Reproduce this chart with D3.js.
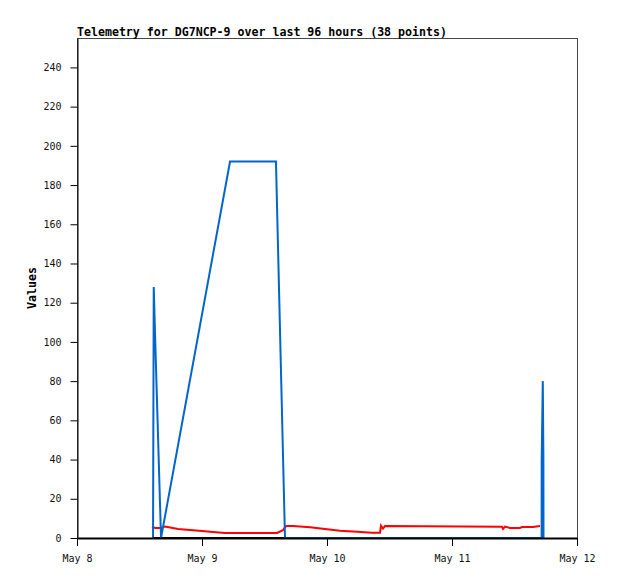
<!DOCTYPE html>
<html>
<head>
<meta charset="utf-8">
<script src="https://cdn.jsdelivr.net/npm/d3@7"></script>
<style>
  html, body { margin: 0; padding: 0; background: #fff; }
  svg { display: block; }
</style>
</head>
<body>
<svg id="chart" width="618" height="579"></svg>
<script>
// ---- data ----
const titleText = "Telemetry for DG7NCP-9 over last 96 hours (38 points)";
const yLabel = "Values";
const xDomain = ["2024-05-08T00:00:00Z", "2024-05-12T00:00:00Z"];
const xTickLabels = ["May 8", "May 9", "May 10", "May 11", "May 12"];
const yTicks = [0, 20, 40, 60, 80, 100, 120, 140, 160, 180, 200, 220, 240];
const yMax = 255;

const blueTimes = [
  "2024-05-08T14:36", "2024-05-08T14:44", "2024-05-08T14:59", "2024-05-08T16:08",
  "2024-05-09T05:23", "2024-05-09T14:12", "2024-05-09T15:56",
  "2024-05-11T17:12:12", "2024-05-11T17:13:20", "2024-05-11T17:26:00",
  "2024-05-11T17:32:54", "2024-05-11T17:34:05"
];
const blueValues = [0, 128, 104, 0, 192, 192, 0, 0, 40, 80, 40, 0];

const redTimes = [
  "2024-05-08T14:24", "2024-05-08T14:59", "2024-05-08T15:56", "2024-05-08T16:54",
  "2024-05-08T19:24", "2024-05-08T21:42", "2024-05-09T00:00", "2024-05-09T02:07",
  "2024-05-09T04:25", "2024-05-09T14:24", "2024-05-09T15:33", "2024-05-09T16:08",
  "2024-05-09T17:28", "2024-05-09T20:44", "2024-05-09T23:37", "2024-05-10T02:30",
  "2024-05-10T05:46", "2024-05-10T08:38", "2024-05-10T10:11", "2024-05-10T10:22",
  "2024-05-10T10:45", "2024-05-10T11:08", "2024-05-11T09:36", "2024-05-11T09:48",
  "2024-05-11T10:11", "2024-05-11T11:08", "2024-05-11T13:03", "2024-05-11T13:26",
  "2024-05-11T15:33", "2024-05-11T16:54"
];
const redValues = [
  5.8, 5.1, 5.1, 5.8, 4.6, 4.1, 3.6, 3.1, 2.6, 2.6, 4.0, 6.1,
  6.1, 5.5, 4.6, 3.7, 3.2, 2.7, 2.7, 6.3, 4.8, 6.1, 5.8, 4.6,
  5.8, 5.1, 5.1, 5.6, 5.6, 6.1
];

const blackTimes = ["2024-05-08T14:36", "2024-05-11T17:28"];
const blackValues = [0, 0];

// ---- layout ----
const mLeft = 77, mRight = 577, mTop = 38, mBottom = 538;
const svg = d3.select("#chart");
const parse = s => new Date(s.endsWith("Z") ? s : (s.length === 16 ? s + ":00Z" : s + "Z"));

const x = d3.scaleUtc().domain(xDomain.map(parse)).range([mLeft, mRight]);
const y = d3.scaleLinear().domain([0, yMax]).range([mBottom, mBottom - 500 * yMax / 255]);

const font = "'DejaVu Sans Mono', monospace";

// frame
svg.append("rect")
  .attr("x", mLeft + 0.5).attr("y", mTop + 0.5)
  .attr("width", mRight - mLeft).attr("height", mBottom - mTop)
  .attr("fill", "none").attr("stroke", "#444").attr("stroke-width", 1);

// series
const line = d3.line().x(d => x(d[0])).y(d => y(d[1]));
function series(times, values, color, width) {
  const pts = times.map((t, i) => [parse(t), values[i]]);
  svg.append("path").datum(pts)
    .attr("d", line)
    .attr("fill", "none")
    .attr("stroke", color)
    .attr("stroke-width", width)
    .attr("stroke-linejoin", "miter");
}
series(blackTimes, blackValues, "#000", 2);
series(redTimes, redValues, "#ff0000", 2);
series(blueTimes, blueValues, "#0066cc", 2);

// y axis
const yAxis = d3.axisLeft(y).tickValues(yTicks).tickSize(7).tickPadding(9).tickSizeOuter(0);
const gy = svg.append("g").attr("transform", `translate(${mLeft + 0.5},0)`).call(yAxis);
gy.select(".domain").attr("stroke", "#000");
gy.selectAll(".tick line").attr("stroke", "#000");
gy.selectAll(".tick text").attr("font-family", font).attr("font-size", 10).attr("fill", "#111");

// x axis
const xTickDates = xTickLabels.map((_, i) => d3.utcDay.offset(parse(xDomain[0]), i));
const xAxis = d3.axisBottom(x).tickValues(xTickDates)
  .tickFormat((d, i) => xTickLabels[i]).tickSize(8).tickPadding(9).tickSizeOuter(0);
const gx = svg.append("g").attr("transform", `translate(0,${mBottom})`).call(xAxis);
gx.select(".domain").attr("stroke", "#000").attr("stroke-width", 2);
gx.selectAll(".tick line").attr("stroke", "#000");
gx.selectAll(".tick text").attr("font-family", font).attr("font-size", 10).attr("fill", "#111");

// title
svg.append("text")
  .attr("x", mLeft).attr("y", 35.5)
  .attr("font-family", font).attr("font-size", 11.6).attr("font-weight", "bold")
  .attr("fill", "#000")
  .text(titleText);

// y label
svg.append("text")
  .attr("transform", `translate(36,${(mTop + mBottom) / 2}) rotate(-90)`)
  .attr("text-anchor", "middle")
  .attr("font-family", font).attr("font-size", 11.6).attr("font-weight", "bold")
  .attr("fill", "#000")
  .text(yLabel);
</script>
</body>
</html>
